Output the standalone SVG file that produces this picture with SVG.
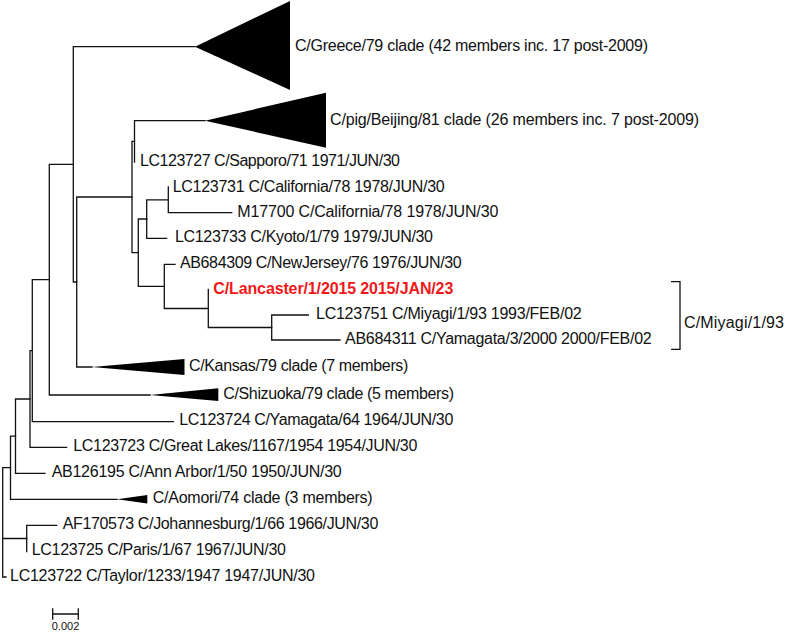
<svg xmlns="http://www.w3.org/2000/svg" width="787" height="632" viewBox="0 0 787 632">
<style>
.br{fill:none;stroke:#111;stroke-width:1.3;stroke-linecap:square}
.tri{fill:#000;stroke:none}
.lb{font-family:"Liberation Sans",Arial,sans-serif;font-size:16px;fill:#111}
.hl{font-weight:bold;fill:#f01818}
.sc{font-family:"Liberation Sans",Arial,sans-serif;font-size:11px;fill:#111}
</style>
<rect width="787" height="632" fill="#fff"/>
<g id="connectors" class="br">
<path d="M2.7,467.7 V577 H6 M2.7,467.7 H10.5 M2.7,538.5 H26.7"/>
<path d="M10.5,436.2 V499.3 M10.5,436.2 H15.5 M10.5,499.3 H117"/>
<path d="M15.5,399 V473.3 M15.5,399 H30 M15.5,473.3 H45"/>
<path d="M30,350.7 V447.3 M30,350.7 H32.3 M30,447.3 H66.7"/>
<path d="M32.3,279.7 V421.7 M32.3,279.7 H49.3 M32.3,421.7 H173.3"/>
<path d="M49.3,164.3 V395 M49.3,164.3 H73.3 M49.3,395 H150"/>
<path d="M73.3,46.7 V282 M73.3,46.7 H195 M73.3,282 H76.7"/>
<path d="M76.7,197 V367 M76.7,197 H132 M76.7,367 H92"/>
<path d="M132,141.3 V252.7 M132,141.3 H134.5 M132,252.7 H138.3"/>
<path d="M134.5,120.7 V162 M134.5,120.7 H205"/>
<path d="M138.3,219 V286.4 M138.3,219 H146.7 M138.3,286.4 H164.3"/>
<path d="M146.7,199.8 V238.3 M146.7,199.8 H168.3 M146.7,238.3 H166.7"/>
<path d="M168.3,187 V212.7 M168.3,212.7 H231.7"/>
<path d="M164.3,264.3 V308.5 M164.3,264.3 H175 M164.3,308.5 H208.3"/>
<path d="M208.3,289.5 V327.5 M208.3,327.5 H271.7"/>
<path d="M271.7,315 V340 M271.7,315 H308.3 M271.7,340 H340"/>
<path d="M26.7,525.3 V551.7 M26.7,525.3 H56.7"/>
</g>
<g id="greece-clade">
<polygon class="tri" points="195,46.7 290,1 290,90"/>
<text class="lb" x="295" y="50.5" textLength="353">C/Greece/79 clade (42 members inc. 17 post-2009)</text>
</g>
<g id="beijing-clade">
<polygon class="tri" points="205,120.7 326,92.7 326,147.7"/>
<text class="lb" x="330" y="124.5" textLength="369">C/pig/Beijing/81 clade (26 members inc. 7 post-2009)</text>
</g>
<g id="sapporo"><text class="lb" x="140" y="165.5" textLength="260">LC123727 C/Sapporo/71 1971/JUN/30</text></g>
<g id="california-lc123731"><text class="lb" x="172.7" y="191.8" textLength="272">LC123731 C/California/78 1978/JUN/30</text></g>
<g id="california-m17700"><text class="lb" x="237.3" y="217" textLength="261">M17700 C/California/78 1978/JUN/30</text></g>
<g id="kyoto"><text class="lb" x="175" y="242" textLength="258">LC123733 C/Kyoto/1/79 1979/JUN/30</text></g>
<g id="newjersey"><text class="lb" x="180" y="268.3" textLength="281.7">AB684309 C/NewJersey/76 1976/JUN/30</text></g>
<g id="lancaster"><text class="lb hl" x="213.3" y="293.5" textLength="240">C/Lancaster/1/2015 2015/JAN/23</text></g>
<g id="miyagi"><text class="lb" x="316" y="318.7" textLength="265.7">LC123751 C/Miyagi/1/93 1993/FEB/02</text></g>
<g id="yamagata-2000"><text class="lb" x="345" y="343.7" textLength="306.7">AB684311 C/Yamagata/3/2000 2000/FEB/02</text></g>
<g id="miyagi-bracket">
<path class="br" d="M671.7,281.7 H680 V349.3 H671.7"/>
<text class="lb" x="684" y="328.3" textLength="100">C/Miyagi/1/93</text>
</g>
<g id="kansas-clade">
<polygon class="tri" points="92,367 184.5,359 184.5,375"/>
<text class="lb" x="189" y="371" textLength="219.3">C/Kansas/79 clade (7 members)</text>
</g>
<g id="shizuoka-clade">
<polygon class="tri" points="150,395 218.3,388.3 218.3,401"/>
<text class="lb" x="223.3" y="398.7" textLength="230.7">C/Shizuoka/79 clade (5 members)</text>
</g>
<g id="yamagata-64"><text class="lb" x="179.3" y="425.2" textLength="274">LC123724 C/Yamagata/64 1964/JUN/30</text></g>
<g id="great-lakes"><text class="lb" x="73.3" y="450.9" textLength="344">LC123723 C/Great Lakes/1167/1954 1954/JUN/30</text></g>
<g id="ann-arbor"><text class="lb" x="51.7" y="476.9" textLength="290">AB126195 C/Ann Arbor/1/50 1950/JUN/30</text></g>
<g id="aomori-clade">
<polygon class="tri" points="117,499.3 147.3,495 147.3,503.5"/>
<text class="lb" x="152.7" y="502.9" textLength="220">C/Aomori/74 clade (3 members)</text>
</g>
<g id="johannesburg"><text class="lb" x="62.7" y="529.2" textLength="315.6">AF170573 C/Johannesburg/1/66 1966/JUN/30</text></g>
<g id="paris"><text class="lb" x="31.7" y="555.2" textLength="254.3">LC123725 C/Paris/1/67 1967/JUN/30</text></g>
<g id="taylor"><text class="lb" x="10" y="580.7" textLength="305">LC123722 C/Taylor/1233/1947 1947/JUN/30</text></g>
<g id="scale-bar">
<path class="br" d="M52.7,614 H78.3 M52.7,609 V619 M78.3,609 V619"/>
<text class="sc" x="65.5" y="630" text-anchor="middle">0.002</text>
</g>
</svg>
